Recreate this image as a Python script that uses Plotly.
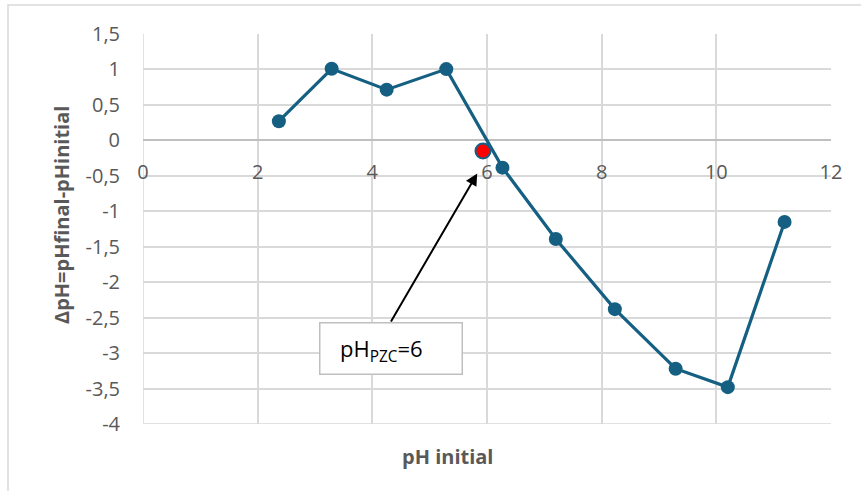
import plotly.graph_objects as go

ph_initial = [2.37, 3.29, 4.25, 5.29, 6.27, 7.20, 8.23, 9.29, 10.20, 11.19]
delta_ph = [0.27, 1.01, 0.715, 1.005, -0.385, -1.39, -2.38, -3.22, -3.48, -1.15]
pzc_x = [5.93]
pzc_y = [-0.15]
x_ticks = [0, 2, 4, 6, 8, 10, 12]
y_ticks = [1.5, 1, 0.5, 0, -0.5, -1, -1.5, -2, -2.5, -3, -3.5, -4]
y_tick_text = [str(v).replace(".", ",") for v in y_ticks]

X_RANGE = [0, 12]
Y_RANGE = [-4, 1.5]
BLUE = "#156082"
GRID = "#d9d9d9"
TXT = "#595959"
FONT = "Open Sans"

W, H = 861, 491
L, R, T, B = 143, 30, 34, 67
pw, ph = W - L - R, H - T - B

fig = go.Figure()
fig.add_trace(go.Scatter(
    x=ph_initial, y=delta_ph, mode="lines+markers",
    line=dict(color=BLUE, width=3.2),
    marker=dict(color=BLUE, size=14),
    showlegend=False, hoverinfo="x+y"))
fig.add_trace(go.Scatter(
    x=pzc_x, y=pzc_y, mode="markers",
    marker=dict(color="#ff0000", size=15, line=dict(color=BLUE, width=2)),
    showlegend=False))

zero_pos = (0 - Y_RANGE[0]) / (Y_RANGE[1] - Y_RANGE[0])

fig.update_xaxes(
    range=X_RANGE, tickvals=x_ticks, showgrid=True, gridcolor=GRID, gridwidth=1.5,
    zeroline=False, showline=False, anchor="free", position=zero_pos,
    ticks="outside", ticklen=14, tickcolor="rgba(0,0,0,0)",
    tickfont=dict(family=FONT, size=20, color=TXT), fixedrange=True)
fig.update_yaxes(
    range=Y_RANGE, tickvals=y_ticks, ticktext=y_tick_text, showgrid=True,
    gridcolor=GRID, gridwidth=1.5, zeroline=True, zerolinecolor="#bfbfbf",
    zerolinewidth=1.5, showline=False, ticks="outside", ticklen=18,
    tickcolor="rgba(0,0,0,0)", tickfont=dict(family=FONT, size=20, color=TXT),
    fixedrange=True)

# left and bottom plot edges drawn like gridlines
fig.add_shape(type="line", xref="x", yref="y", x0=X_RANGE[0], x1=X_RANGE[0],
              y0=Y_RANGE[0], y1=Y_RANGE[1], line=dict(color=GRID, width=1.5), layer="below")
fig.add_shape(type="line", xref="x", yref="y", x0=X_RANGE[0], x1=X_RANGE[1],
              y0=Y_RANGE[0], y1=Y_RANGE[0], line=dict(color=GRID, width=1.5), layer="below")

# outer chart border
fig.add_shape(type="rect", xref="paper", yref="paper",
              x0=(8 - L) / pw, x1=(W + 10 - L) / pw,
              y0=(H - B - (H + 10)) / ph, y1=(H - B - 5) / ph,
              line=dict(color=GRID, width=1.5), fillcolor="rgba(0,0,0,0)", layer="below")

# y-axis title
fig.add_annotation(xref="paper", yref="paper", x=(61 - L) / pw, y=(H - B - 215) / ph,
                   xanchor="center", yanchor="middle",
                   text="<b>ΔpH=pHfinal-pHinitial</b>", showarrow=False, textangle=-90,
                   font=dict(family=FONT, size=20, color=TXT))
# x-axis title
fig.add_annotation(xref="paper", yref="paper", x=(447 - L) / pw, y=(H - B - 456) / ph,
                   xanchor="center", yanchor="middle",
                   text="<b>pH initial</b>", showarrow=False,
                   font=dict(family=FONT, size=20, color=TXT))

# arrow
fig.add_annotation(xref="x", yref="y", axref="x", ayref="y",
                   x=5.83, y=-0.467, ax=4.31, ay=-2.575, text="",
                   showarrow=True, arrowhead=2, arrowsize=1.2, arrowwidth=2, arrowcolor="#000000")
# label box
fig.add_annotation(xref="x", yref="y", x=4.33, y=-2.94, xanchor="center", yanchor="middle",
                   text=" ", showarrow=False,
                   width=139, height=48, bgcolor="#ffffff", bordercolor="#bfbfbf",
                   borderwidth=1.5, font=dict(family=FONT, size=22, color="#000000"))
fig.add_annotation(xref="x", yref="y", x=4.33, y=-2.94, xanchor="center", yanchor="middle",
                   xshift=-10, yshift=-1,
                   text="pH<sub>PZC</sub>=6", showarrow=False,
                   font=dict(family=FONT, size=22, color="#000000"))

fig.update_layout(
    width=W, height=H, margin=dict(l=L, r=R, t=T, b=B),
    plot_bgcolor="#ffffff", paper_bgcolor="#ffffff",
)

fig.write_html("out.html", config={"displayModeBar": False},
               post_script="document.body.style.margin='0';")
